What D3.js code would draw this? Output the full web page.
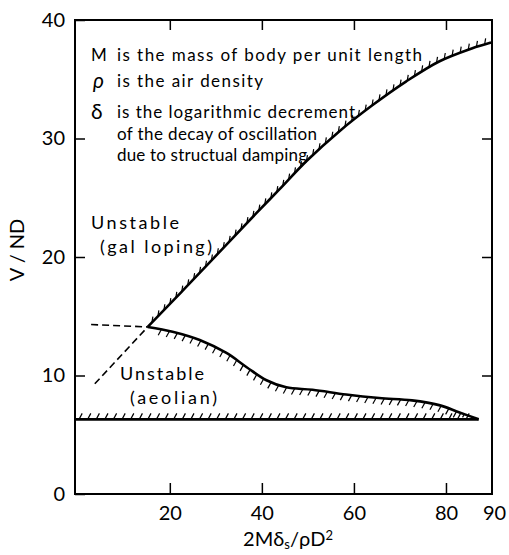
<!DOCTYPE html>
<html>
<head>
<meta charset="utf-8">
<script src="https://cdn.jsdelivr.net/npm/d3@7"></script>
<style>
  body { margin: 0; background: #fff; }
  svg text { font-family: Lato, "DejaVu Sans", sans-serif; fill: #000; }
</style>
</head>
<body>
<div id="chart"></div>
<script>
// stability boundaries
const yTickValues = [0, 10, 20, 30, 40];
const xTickValues = [20, 40, 60, 80, 90];

// upper (galloping) boundary
const gallopX = [15.2, 22.4, 30.0, 38.8, 43.8, 49.7, 56.8, 64.0, 71.3, 78.5, 85.6, 89.8];
const gallopY = [14.1, 17.0, 20.1, 23.7, 25.7, 28.1, 30.6, 32.8, 34.8, 36.5, 37.6, 38.1];

// aeolian upper boundary
const aeolX = [15.2, 20.6, 26.5, 32.3, 36.7, 41.0, 45.3, 51.0, 58.3, 65.5, 72.6, 78.5, 82.8, 87.1];
const aeolY = [14.1, 13.7, 13.0, 11.9, 10.7, 9.6, 9.0, 8.8, 8.4, 8.1, 7.9, 7.5, 6.9, 6.3];

// aeolian lower boundary (flat)
const baseX = [-0.6, 87.1];
const baseY = [6.3, 6.3];

// dashed extrapolations
const dashFlatX = [2.9, 15.2];
const dashFlatY = [14.3, 14.1];
const dashDiagX = [3.7, 15.2];
const dashDiagY = [9.3, 14.1];

const W = 509, H = 555;

const svg = d3.select("#chart").append("svg")
    .attr("width", W)
    .attr("height", H);

const x = d3.scaleLinear().domain([-0.6, 90]).range([75, 492]);
const y = d3.scaleLinear().domain([0, 40]).range([494, 20]);

const zip = (xs, ys) => xs.map((v, i) => [v, ys[i]]);
const line = d3.line().x(d => x(d[0])).y(d => y(d[1])).curve(d3.curveCatmullRom.alpha(0.5));

// frame
svg.append("rect")
    .attr("x", x(-0.6)).attr("y", y(40))
    .attr("width", x(90) - x(-0.6)).attr("height", y(0) - y(40))
    .attr("fill", "none").attr("stroke", "#000").attr("stroke-width", 2);

// axes with inward ticks
const axisStyle = g => {
    g.select(".domain").remove();
    g.selectAll(".tick line").attr("stroke", "#000").attr("stroke-width", 1.5);
    g.selectAll(".tick text").attr("fill", "#000")
        .style("font-size", "20px").style("font-family", "Lato, sans-serif");
};

svg.append("g")
    .attr("transform", `translate(${x(-0.6)},0)`)
    .call(d3.axisLeft(y).tickValues(yTickValues).tickSize(-10).tickPadding(10).tickFormat(d3.format("d")))
    .call(axisStyle);

svg.append("g")
    .attr("transform", `translate(${x(90)},0)`)
    .call(d3.axisRight(y).tickValues([10, 20, 30]).tickSize(-10).tickFormat(""))
    .call(axisStyle);

svg.append("g")
    .attr("transform", `translate(0,${y(0)})`)
    .call(d3.axisBottom(x).tickValues(xTickValues).tickSize(-11).tickPadding(12).tickFormat(d3.format("d")))
    .call(axisStyle)
    .call(g => g.selectAll(".tick").filter(d => d === 90).select("line").remove())
    .call(g => g.selectAll(".tick").filter(d => d === 90).select("text").attr("dx", 2));

svg.append("g")
    .attr("transform", `translate(0,${y(40)})`)
    .call(d3.axisTop(x).tickValues([20, 40, 60, 80]).tickSize(-10).tickFormat(""))
    .call(axisStyle);

// curves
const gallopPath = svg.append("path")
    .attr("d", line(zip(gallopX, gallopY)))
    .attr("fill", "none").attr("stroke", "#000").attr("stroke-width", 2.6);

const aeolPath = svg.append("path")
    .attr("d", line(zip(aeolX, aeolY)))
    .attr("fill", "none").attr("stroke", "#000").attr("stroke-width", 2.6);

const basePath = svg.append("path")
    .attr("d", d3.line().x(d => x(d[0])).y(d => y(d[1]))(zip(baseX, baseY)))
    .attr("fill", "none").attr("stroke", "#000").attr("stroke-width", 2.6);

[[dashFlatX, dashFlatY], [dashDiagX, dashDiagY]].forEach(([xs, ys]) => {
    svg.append("path")
        .attr("d", d3.line().x(d => x(d[0])).y(d => y(d[1]))(zip(xs, ys)))
        .attr("fill", "none").attr("stroke", "#000").attr("stroke-width", 1.6)
        .attr("stroke-dasharray", "7,4");
});

// hatch ticks along a path
function hatch(pathSel, step, start, end, tickFn) {
    const node = pathSel.node();
    const len = node.getTotalLength();
    const g = svg.append("g").attr("stroke", "#000").attr("stroke-width", 1.2);
    for (let s = start; s < len - end; s += step) {
        const p = node.getPointAtLength(s);
        const t = tickFn(p);
        if (!t) continue;
        g.append("line")
            .attr("x1", p.x).attr("y1", p.y)
            .attr("x2", p.x + t[0]).attr("y2", p.y + t[1]);
    }
}

const baseYpx = y(6.3);

hatch(gallopPath, 8.6, 6, 2, p => [1, -6]);
hatch(aeolPath, 8.2, 14, 3, p => {
    const room = baseYpx - p.y - 2;
    if (room < 2) return null;
    const l = Math.min(6, room);
    return [-l * 0.55, l];
});
hatch(basePath, 8.6, 4, 10, p => [3.2, -6]);

// annotation text
const note = svg.append("g").style("font-size", "17px");
note.append("text").attr("x", 91).attr("y", 61).text("M");
note.append("text").attr("x", 117).attr("y", 61).attr("textLength", 305).text("is the mass of body per unit  length");
note.append("text").attr("x", 93).attr("y", 88).style("font-style", "italic").style("font-size", "21px").text("ρ");
note.append("text").attr("x", 117).attr("y", 87).attr("textLength", 146).text("is the air density");
note.append("text").attr("x", 91).attr("y", 119).style("font-size", "21px").text("δ");
note.append("text").attr("x", 117).attr("y", 118).attr("textLength", 238).text("is the logarithmic decrement");
note.append("text").attr("x", 117).attr("y", 140).attr("textLength", 200).text("of the decay of oscillation");
note.append("text").attr("x", 117).attr("y", 161).attr("textLength", 190).text("due to structual damping");

const regions = svg.append("g").style("font-size", "18px");
regions.append("text").attr("x", 91).attr("y", 229).attr("textLength", 88).text("Unstable");
regions.append("text").attr("x", 100).attr("y", 253).attr("textLength", 112).text("(gal loping)");
regions.append("text").attr("x", 120).attr("y", 380).attr("textLength", 84).text("Unstable");
regions.append("text").attr("x", 130).attr("y", 404).attr("textLength", 87).text("(aeolian)");

// axis titles
const xt = svg.append("text")
    .attr("x", 288).attr("y", 546)
    .attr("text-anchor", "middle")
    .style("font-size", "20px");
xt.append("tspan").text("2Mδ");
xt.append("tspan").attr("baseline-shift", "-25%").style("font-size", "13px").text("s");
xt.append("tspan").text("/ρD");
xt.append("tspan").attr("baseline-shift", "45%").style("font-size", "13px").text("2");

svg.append("text")
    .attr("transform", "translate(24,250) rotate(-90)")
    .attr("text-anchor", "middle")
    .style("font-size", "20px")
    .text("V / ND");
</script>
</body>
</html>
